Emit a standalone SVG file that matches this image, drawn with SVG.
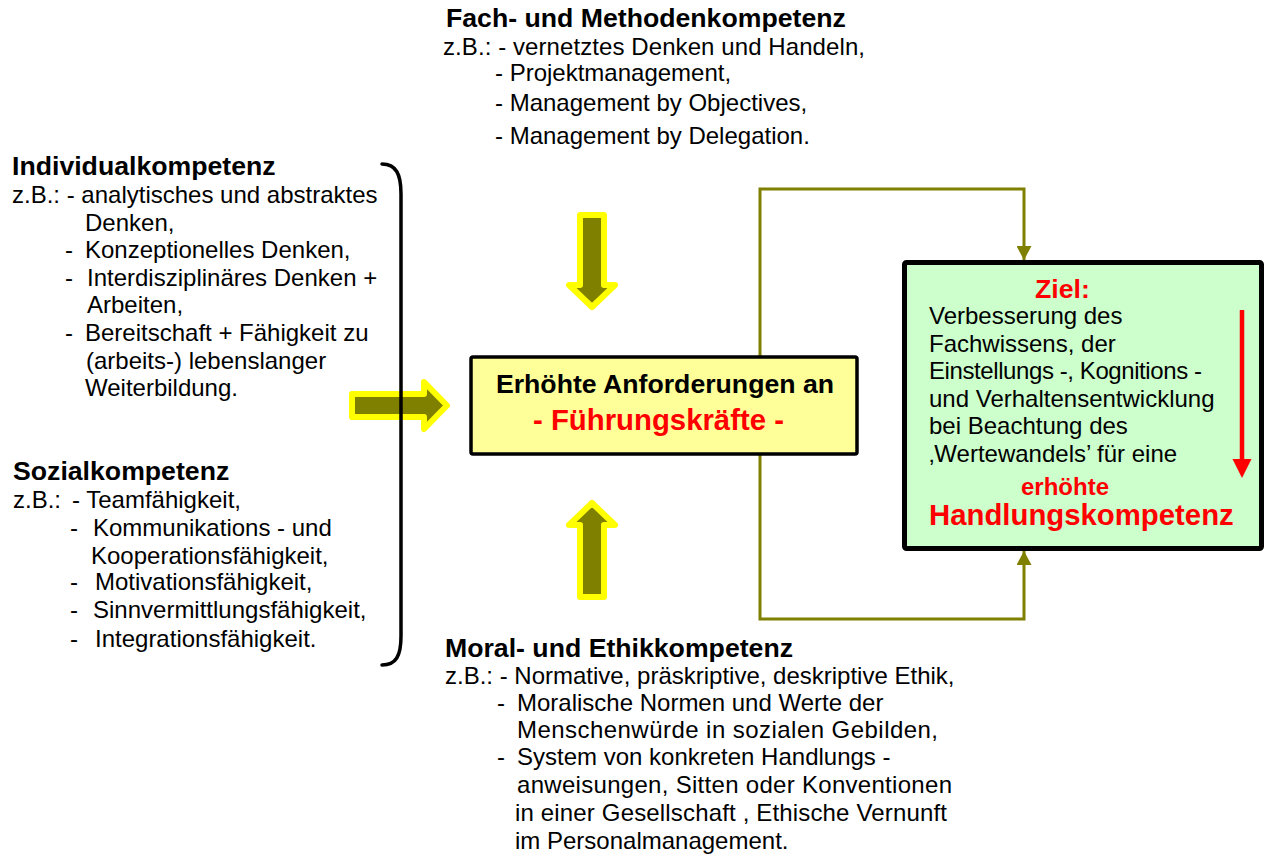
<svg xmlns="http://www.w3.org/2000/svg" width="1265" height="854" viewBox="0 0 1265 854">
<defs>
<style>
text { font-family: "Liberation Sans", Arial, sans-serif; fill: #000000; }
.t { font-weight: bold; font-size: 26.67px; }
.b { font-size: 24px; }
.rb { font-weight: bold; fill: #FF0000; }
.fat { fill: #808000; stroke: #FFFF00; stroke-width: 6; stroke-linejoin: round; }
.conn { fill: none; stroke: #808000; stroke-width: 3; }
.brace { fill: none; stroke: #000000; stroke-width: 3.5; stroke-linecap: round; }
</style>
<marker id="ah" viewBox="0 0 14 15" refX="14" refY="7.5" markerWidth="14" markerHeight="15" markerUnits="userSpaceOnUse" orient="auto">
<path d="M0,0 L14,7.5 L0,15 z" fill="#808000"/>
</marker>
</defs>
<rect x="0" y="0" width="1265" height="854" fill="#FFFFFF"/>

<g id="fach">
<text class="t" x="446" y="27">Fach- und Methodenkompetenz</text>
<text class="b" x="443" y="55" textLength="422" lengthAdjust="spacing">z.B.: - vernetztes Denken und Handeln,</text>
<text class="b" x="495" y="81">- Projektmanagement,</text>
<text class="b" x="495" y="111">- Management by Objectives,</text>
<text class="b" x="495" y="144">- Management by Delegation.</text>
</g>

<g id="individual">
<text class="t" x="12" y="175">Individualkompetenz</text>
<text class="b" x="12" y="203">z.B.: - analytisches und abstraktes</text>
<text class="b" x="85" y="231">Denken,</text>
<text class="b"><tspan x="65" y="258">-</tspan><tspan x="85" y="258">Konzeptionelles Denken,</tspan></text>
<text class="b"><tspan x="65" y="286">-</tspan><tspan x="87" y="286">Interdisziplinäres Denken +</tspan></text>
<text class="b" x="87" y="313">Arbeiten,</text>
<text class="b"><tspan x="65" y="341">-</tspan><tspan x="85" y="341">Bereitschaft + Fähigkeit zu</tspan></text>
<text class="b" x="86" y="369">(arbeits-) lebenslanger</text>
<text class="b" x="85" y="396">Weiterbildung.</text>
</g>

<g id="sozial">
<text class="t" x="13" y="480">Sozialkompetenz</text>
<text class="b"><tspan x="13" y="508">z.B.:</tspan><tspan x="72" y="508">- Teamfähigkeit,</tspan></text>
<text class="b"><tspan x="70" y="536">-</tspan><tspan x="93" y="536">Kommunikations - und</tspan></text>
<text class="b" x="91" y="564">Kooperationsfähigkeit,</text>
<text class="b"><tspan x="70" y="590">-</tspan><tspan x="95" y="590">Motivationsfähigkeit,</tspan></text>
<text class="b"><tspan x="70" y="618">-</tspan><tspan x="93" y="618">Sinnvermittlungsfähigkeit,</tspan></text>
<text class="b"><tspan x="70" y="647">-</tspan><tspan x="95" y="647">Integrationsfähigkeit.</tspan></text>
</g>

<g id="moral">
<text class="t" x="445" y="657">Moral- und Ethikkompetenz</text>
<text class="b" x="445" y="684">z.B.: - Normative, präskriptive, deskriptive Ethik,</text>
<text class="b"><tspan x="497" y="711">-</tspan><tspan x="517" y="711">Moralische Normen und Werte der</tspan></text>
<text class="b" x="517" y="738" textLength="421" lengthAdjust="spacing">Menschenwürde in sozialen Gebilden,</text>
<text class="b"><tspan x="497" y="765">-</tspan><tspan x="517" y="765">System von konkreten Handlungs -</tspan></text>
<text class="b" x="517" y="793" textLength="435" lengthAdjust="spacing">anweisungen, Sitten oder Konventionen</text>
<text class="b" x="515" y="821" textLength="432" lengthAdjust="spacing">in einer Gesellschaft , Ethische Vernunft</text>
<text class="b" x="515" y="849">im Personalmanagement.</text>
</g>

<g id="arrows">
<polygon class="fat" points="580,215 604,215 604,285 615,285 592,307 569,285 580,285"/>
<polygon class="fat" points="592,503 615,525 604,525 604,597 580,597 580,525 569,525"/>
<polygon class="fat" points="352,394 424,394 424,382 447,405.5 424,429 424,417 352,417"/>
</g>

<g id="brace">
<path class="brace" d="M382,164 C396,164 401,174 401,194 L401,636 C401,656 396,665 382,665"/>
</g>

<g id="connectors">
<path class="conn" d="M760,356 V189 H1024 V260" marker-end="url(#ah)"/>
<path class="conn" d="M760,454 V619 H1024 V551" marker-end="url(#ah)"/>
</g>

<g id="center">
<rect x="471" y="357" width="386" height="97" rx="2" fill="#FFFF99" stroke="#000000" stroke-width="3.5"/>
<text class="t" x="665" y="393" text-anchor="middle">Erhöhte Anforderungen an</text>
<text class="rb" x="533" y="430" font-size="29.33">- Führungskräfte -</text>
</g>

<g id="ziel">
<rect x="904.5" y="262.5" width="357" height="286" rx="2" fill="#CCFFCC" stroke="#000000" stroke-width="5"/>
<text class="rb" x="1035" y="298" font-size="26.67">Ziel:</text>
<text class="b" x="929" y="324">Verbesserung des</text>
<text class="b" x="929" y="352">Fachwissens, der</text>
<text class="b" x="929" y="379" textLength="273" lengthAdjust="spacing">Einstellungs -, Kognitions -</text>
<text class="b" x="929" y="407">und Verhaltensentwicklung</text>
<text class="b" x="929" y="434">bei Beachtung des</text>
<text class="b" x="929" y="462">‚Wertewandels’ für eine</text>
<text class="rb" x="1021" y="495" font-size="24">erhöhte</text>
<text class="rb" x="929" y="525" font-size="29.33">Handlungskompetenz</text>
<line x1="1242" y1="310" x2="1242" y2="462" stroke="#FF0000" stroke-width="4.5"/>
<polygon points="1232.5,459 1251.5,459 1242,478" fill="#FF0000"/>
</g>
</svg>
